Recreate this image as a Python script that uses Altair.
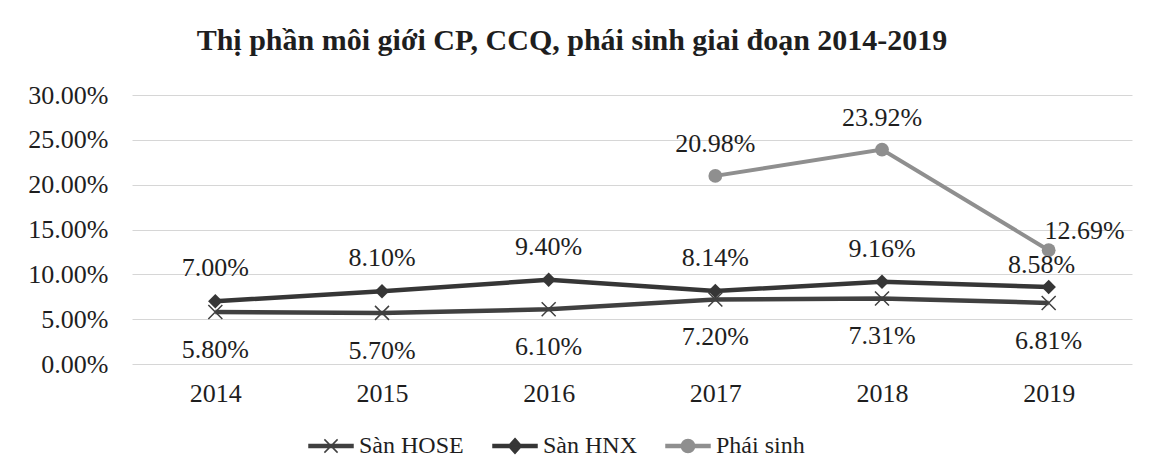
import altair as alt
import pandas as pd

years = ["2014", "2015", "2016", "2017", "2018", "2019"]
hose = [5.80, 5.70, 6.10, 7.20, 7.31, 6.81]
hnx = [7.00, 8.10, 9.40, 8.14, 9.16, 8.58]
phai_sinh = [None, None, None, 20.98, 23.92, 12.69]
series_names = ["Sàn HOSE", "Sàn HNX", "Phái sinh"]
y_ticks = [0.0, 0.05, 0.10, 0.15, 0.20, 0.25, 0.30]
title_text = "Thị phần môi giới CP, CCQ, phái sinh giai đoạn 2014-2019"

rows = []
for name, vals in zip(series_names, [hose, hnx, phai_sinh]):
    for yr, v in zip(years, vals):
        if v is not None:
            rows.append({"year": yr, "series": name, "value": v / 100})
df = pd.DataFrame(rows)

FONT = "Liberation Serif"
TXT = "#1e1e1e"
colors = ["#404040", "#363636", "#8f8f8f"]
line_widths = [4.5, 4.5, 4]

legend_paths = [
    "M-1,-0.07H1V0.07H-1ZM-0.3,-0.3L0.3,0.3M-0.3,0.3L0.3,-0.3",
    "M-1,-0.07H1V0.07H-1ZM0,-0.34L0.3,0L0,0.34L-0.3,0Z",
    "M-1,-0.07H1V0.07H-1ZM-0.3,0A0.3,0.3,0,1,1,0.3,0A0.3,0.3,0,1,1,-0.3,0Z",
]

x = alt.X(
    "year:O",
    scale=alt.Scale(padding=0.5),
    axis=alt.Axis(title=None, labelAngle=0, ticks=False, domain=False,
                  labelPadding=16, labelFontSize=26, labelFont=FONT,
                  labelColor=TXT, grid=False),
)
y = alt.Y(
    "value:Q",
    scale=alt.Scale(domain=[0, 0.30], nice=False, zero=True),
    axis=alt.Axis(title=None, values=y_ticks, format=".2%", ticks=False,
                  domain=False, labelPadding=24, labelFontSize=26,
                  labelFont=FONT, labelColor=TXT, grid=True,
                  gridColor="#d6d6d6", gridWidth=1),
)

base = alt.Chart(df).encode(x=x, y=y)

line_layers = [
    base.transform_filter(alt.datum.series == name).mark_line(strokeWidth=w, color=c)
    for name, c, w in zip(series_names, colors, line_widths)
]

pt_hose = base.transform_filter(alt.datum.series == "Sàn HOSE").mark_point(
    shape="M-1,-1L1,1M-1,1L1,-1", filled=False, size=196, strokeWidth=1.5,
    color=colors[0], opacity=1)
pt_hnx = base.transform_filter(alt.datum.series == "Sàn HNX").mark_point(
    shape="diamond", filled=True, size=210, color=colors[1], opacity=1)
pt_ps = base.transform_filter(alt.datum.series == "Phái sinh").mark_point(
    shape="circle", filled=True, size=190, color=colors[2], opacity=1)

def labels(filt, dx, dy):
    return base.transform_filter(filt).mark_text(
        dx=dx, dy=dy, fontSize=26, font=FONT, color=TXT
    ).encode(text=alt.Text("value:Q", format=".2%"))

t_hose = labels(alt.datum.series == "Sàn HOSE", 0, 38)
t_hnx = labels((alt.datum.series == "Sàn HNX") & (alt.datum.year != "2019"), 0, -33)
t_hnx_last = labels((alt.datum.series == "Sàn HNX") & (alt.datum.year == "2019"), -7, -22)
t_ps = labels((alt.datum.series == "Phái sinh") & (alt.datum.year != "2019"), 0, -32)
t_ps_last = labels((alt.datum.series == "Phái sinh") & (alt.datum.year == "2019"), 36, -19)

leg = alt.Legend(
    title=None, orient="none", legendX=176, legendY=328, direction="horizontal",
    symbolSize=1936, symbolStrokeWidth=1.5, labelFontSize=24, labelFont=FONT,
    labelColor=TXT, labelOffset=5, columnPadding=26, symbolOpacity=1,
)
legend_layer = base.mark_point(
    filled=True, strokeWidth=1.5, opacity=0
).encode(
    shape=alt.Shape("series:N", scale=alt.Scale(domain=series_names, range=legend_paths), legend=leg),
    fill=alt.Fill("series:N", scale=alt.Scale(domain=series_names, range=colors), legend=leg),
    stroke=alt.Stroke("series:N", scale=alt.Scale(domain=series_names, range=colors), legend=leg),
)

chart = alt.layer(
    *line_layers, pt_hose, pt_hnx, pt_ps, t_hose, t_hnx, t_hnx_last, t_ps, t_ps_last, legend_layer
).properties(
    width=1000, height=269,
    autosize=alt.AutoSizeParams(type="none"),
    padding={"left": 124, "top": 87, "right": 11, "bottom": 102},
    background="white",
    title=alt.TitleParams(title_text, fontSize=30, font=FONT, fontWeight="bold",
                          color=TXT, anchor="middle", dx=-60, offset=26),
).configure_view(stroke=None)

chart.save("out.html", embed_options={"renderer": "svg", "actions": False})
